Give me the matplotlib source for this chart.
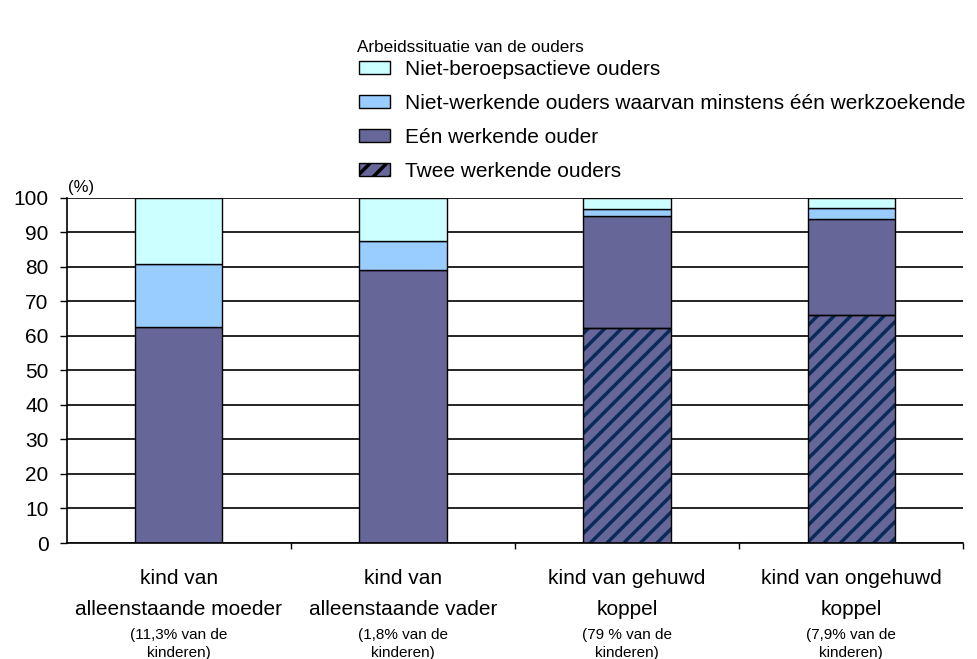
import matplotlib.pyplot as plt
import matplotlib.transforms as mtransforms
import numpy as np

plt.rcParams["font.family"] = ["Liberation Sans", "DejaVu Sans"]
plt.rcParams["hatch.linewidth"] = 2.5
plt.rcParams["hatch.color"] = "#0a2a5a"

# ── data ──────────────────────────────────────────────────────────────────────
categories = [
    "kind van\nalleenstaande moeder",
    "kind van\nalleenstaande vader",
    "kind van gehuwd\nkoppel",
    "kind van ongehuwd\nkoppel",
]
shares = [
    "(11,3% van de\nkinderen)",
    "(1,8% van de\nkinderen)",
    "(79 % van de\nkinderen)",
    "(7,9% van de\nkinderen)",
]
twee_werkend = [0.0, 0.0, 62.2, 66.1]
een_werkend = [62.6, 79.1, 32.4, 27.6]
werkzoekend = [18.3, 8.4, 2.2, 3.3]
niet_actief = [19.1, 12.5, 3.2, 3.0]

labels = [
    "Niet-beroepsactieve ouders",
    "Niet-werkende ouders waarvan minstens één werkzoekende",
    "Eén werkende ouder",
    "Twee werkende ouders",
]

# ── plot ──────────────────────────────────────────────────────────────────────
fig = plt.figure(figsize=(9.78, 6.59), dpi=100)
ax = fig.add_axes([0.068, 0.176, 0.917, 0.524])

x = np.arange(len(categories))
w = 0.39
edge = dict(edgecolor="black", linewidth=1.0)

b4 = ax.bar(x, twee_werkend, w, color="#666699", hatch="//", edgecolor="#0a2a5a",
            linewidth=0)
b3 = ax.bar(x, een_werkend, w, bottom=twee_werkend, color="#666699", **edge)
bot2 = np.add(twee_werkend, een_werkend)
b2 = ax.bar(x, werkzoekend, w, bottom=bot2, color="#99CCFF", **edge)
bot1 = bot2 + np.array(werkzoekend)
b1 = ax.bar(x, niet_actief, w, bottom=bot1, color="#CCFFFF", **edge)
# black outline round the hatched segments
ax.bar(x, twee_werkend, w, fill=False, edgecolor="black", linewidth=1.0, zorder=4)

ax.set_ylim(0, 100)
ax.set_xlim(-0.5, 3.5)
ax.set_yticks(np.arange(0, 101, 10))
ax.yaxis.grid(True, color="black", lw=1.2)
ax.set_axisbelow(True)
ax.tick_params(axis="y", labelsize=15, length=5, width=1, pad=8)
ax.set_xticks([0.5, 1.5, 2.5, 3.5])
ax.set_xticklabels([])
ax.tick_params(axis="x", length=4, width=1)
for s in ["top", "right"]:
    ax.spines[s].set_visible(False)
ax.spines["left"].set_linewidth(1.2)
ax.spines["bottom"].set_linewidth(1.2)

ax.text(-0.495, 100.8, "(%)", fontsize=12, va="bottom", ha="left")

trans = mtransforms.blended_transform_factory(ax.transData, ax.transAxes)
for i, (c, s) in enumerate(zip(categories, shares)):
    ax.text(i, -0.076, c, transform=trans, ha="center", va="top",
            fontsize=15, linespacing=1.75)
    ax.text(i, -0.245, s, transform=trans, ha="center", va="top",
            fontsize=11, linespacing=1.4)

fig.text(0.365, 0.928, "Arbeidssituatie van de ouders", fontsize=12.3,
         ha="left", va="center")

handles = [b1, b2, b3, b4]
leg = fig.legend(
    handles, labels,
    loc="upper left", bbox_to_anchor=(0.367, 0.9095),
    fontsize=15, frameon=False, handlelength=1.5, handleheight=0.58,
    handletextpad=0.7, labelspacing=0.72,
    borderpad=0, borderaxespad=0,
)
for h in leg.legend_handles:
    h.set_edgecolor("black")
    h.set_linewidth(1.0)

fig.savefig("out.png", dpi=100)
